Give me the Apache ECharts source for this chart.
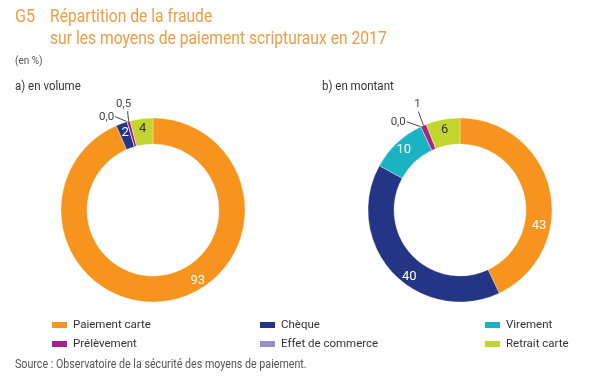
<!DOCTYPE html>
<html>
<head>
<meta charset="utf-8">
<script src="https://cdn.jsdelivr.net/npm/echarts@6/dist/echarts.min.js"></script>
<style>html,body{margin:0;padding:0;background:#fff;}#c{width:600px;height:388px;}</style>
</head>
<body>
<div id="c"></div>
<script>
// ---- data ----
const categories = ['Paiement carte', 'Chèque', 'Virement', 'Effet de commerce', 'Prélèvement', 'Retrait carte'];
const volume = [93, 2, 0, 0, 0.5, 4];
const montant = [43, 40, 10, 0, 1, 6];
const legendCol1 = ['Paiement carte', 'Prélèvement'];
const legendCol2 = ['Chèque', 'Effet de commerce'];
const legendCol3 = ['Virement', 'Retrait carte'];

// ---- styles ----
const FONT = "Roboto, 'Liberation Sans', sans-serif";
const colors = ['#F7941D', '#253585', '#1AB3C1', '#9C8EC6', '#A3238F', '#C4D42E'];
const insideText = ['#fff', '#fff', '#fff', '#333', '#333', '#333'];
// label mode per item: 'in' (inside ring), 'out' (leader line), 'none'
const modeVolume = ['in', 'in', 'none', 'out', 'out', 'in'];
const modeMontant = ['in', 'in', 'in', 'out', 'out', 'in'];
const tweakVolume = {
  0: { dx: 28, dy: -10 },
  3: { lead: [-12, -5], text: [-1, 0], align: 'right', va: 'middle' },
  4: { lead: [-1, -10], text: [-4, -1], align: 'center', va: 'bottom' }
};
const tweakMontant = {
  0: { dx: -1, dy: 34 },
  1: { dx: 9, dy: 11 },
  3: { lead: [-14, -5], text: [-1, 0], align: 'right', va: 'middle' },
  4: { lead: [-5, -14], text: [-1, -1], align: 'center', va: 'bottom' }
};

function fmt(v) {
  return v < 1 ? v.toFixed(1).replace('.', ',') : String(v);
}

function buildData(values, modes) {
  return categories.map(function (name, i) {
    const m = modes[i];
    const item = { name: name, value: values[i], itemStyle: { color: colors[i] } };
    if (m === 'in') {
      item.label = { show: true, position: 'inside', color: insideText[i], fontSize: 13 };
      item.labelLine = { show: false };
    } else if (m === 'out') {
      item.label = { show: true, position: 'outside', color: '#444', fontSize: 11.5 };
      item.labelLine = { show: true, length: 6, length2: 6, lineStyle: { color: '#444', width: 1 } };
    } else {
      item.label = { show: false };
      item.labelLine = { show: false };
    }
    return item;
  });
}

function makeLayout(tweak) {
  return function (params) {
    const t = tweak[params.dataIndex];
    if (!t) return {};
    if (t.lead && params.labelLinePoints) {
      const p0 = params.labelLinePoints[0];
      const p1 = [p0[0] + t.lead[0], p0[1] + t.lead[1]];
      return {
        x: p1[0] + t.text[0],
        y: p1[1] + t.text[1],
        align: t.align,
        verticalAlign: t.va,
        labelLinePoints: [p0, p1, p1]
      };
    }
    return { dx: t.dx || 0, dy: t.dy || 0 };
  };
}

function pie(values, modes, tweak, cx) {
  return {
    type: 'pie',
    center: [cx, 210],
    radius: [66, 92],
    startAngle: 90,
    clockwise: true,
    avoidLabelOverlap: false,
    minShowLabelAngle: 0,
    silent: true,
    label: { fontFamily: FONT, formatter: function (p) { return fmt(p.value); } },
    itemStyle: { borderColor: '#fff', borderWidth: 0.3 },
    labelLayout: makeLayout(tweak),
    data: buildData(values, modes)
  };
}

function legend(list, left) {
  return {
    data: list.map(function (n) { return { name: n, icon: 'rect' }; }),
    orient: 'vertical',
    left: left,
    top: 318,
    itemWidth: 17,
    itemHeight: 8,
    itemGap: 5,
    selectedMode: false,
    padding: 0,
    textStyle: { fontFamily: FONT, fontSize: 11.5, color: '#333', lineHeight: 14 }
  };
}

function txt(text, x, y, size, color, sx) {
  return {
    type: 'text', x: x, y: y, scaleX: sx, silent: true,
    style: { text: text, fill: color, fontFamily: FONT, fontSize: size, textAlign: 'left', textVerticalAlign: 'middle' }
  };
}

const TITLE = '#EF9C45';
const chart = echarts.init(document.getElementById('c'), null, { renderer: 'canvas' });
chart.setOption({
  backgroundColor: '#fff',
  animation: false,
  graphic: [
    txt('G5', 15, 17, 18, TITLE, 0.9),
    txt('Répartition de la fraude', 50, 17, 18, TITLE, 0.87),
    txt('sur les moyens de paiement scripturaux en 2017', 50, 39, 18, TITLE, 0.87),
    txt('(en %)', 15, 61, 10, '#555', 1),
    txt('a) en volume', 15, 87, 12.5, '#333', 0.92),
    txt('b) en montant', 322, 87, 12.5, '#333', 0.92),
    txt('Source : Observatoire de la sécurité des moyens de paiement.', 15, 365, 12, '#555', 0.89)
  ],
  legend: [legend(legendCol1, 50), legend(legendCol2, 258), legend(legendCol3, 483)],
  series: [
    pie(volume, modeVolume, tweakVolume, 153),
    pie(montant, modeMontant, tweakMontant, 460)
  ]
});
</script>
</body>
</html>
